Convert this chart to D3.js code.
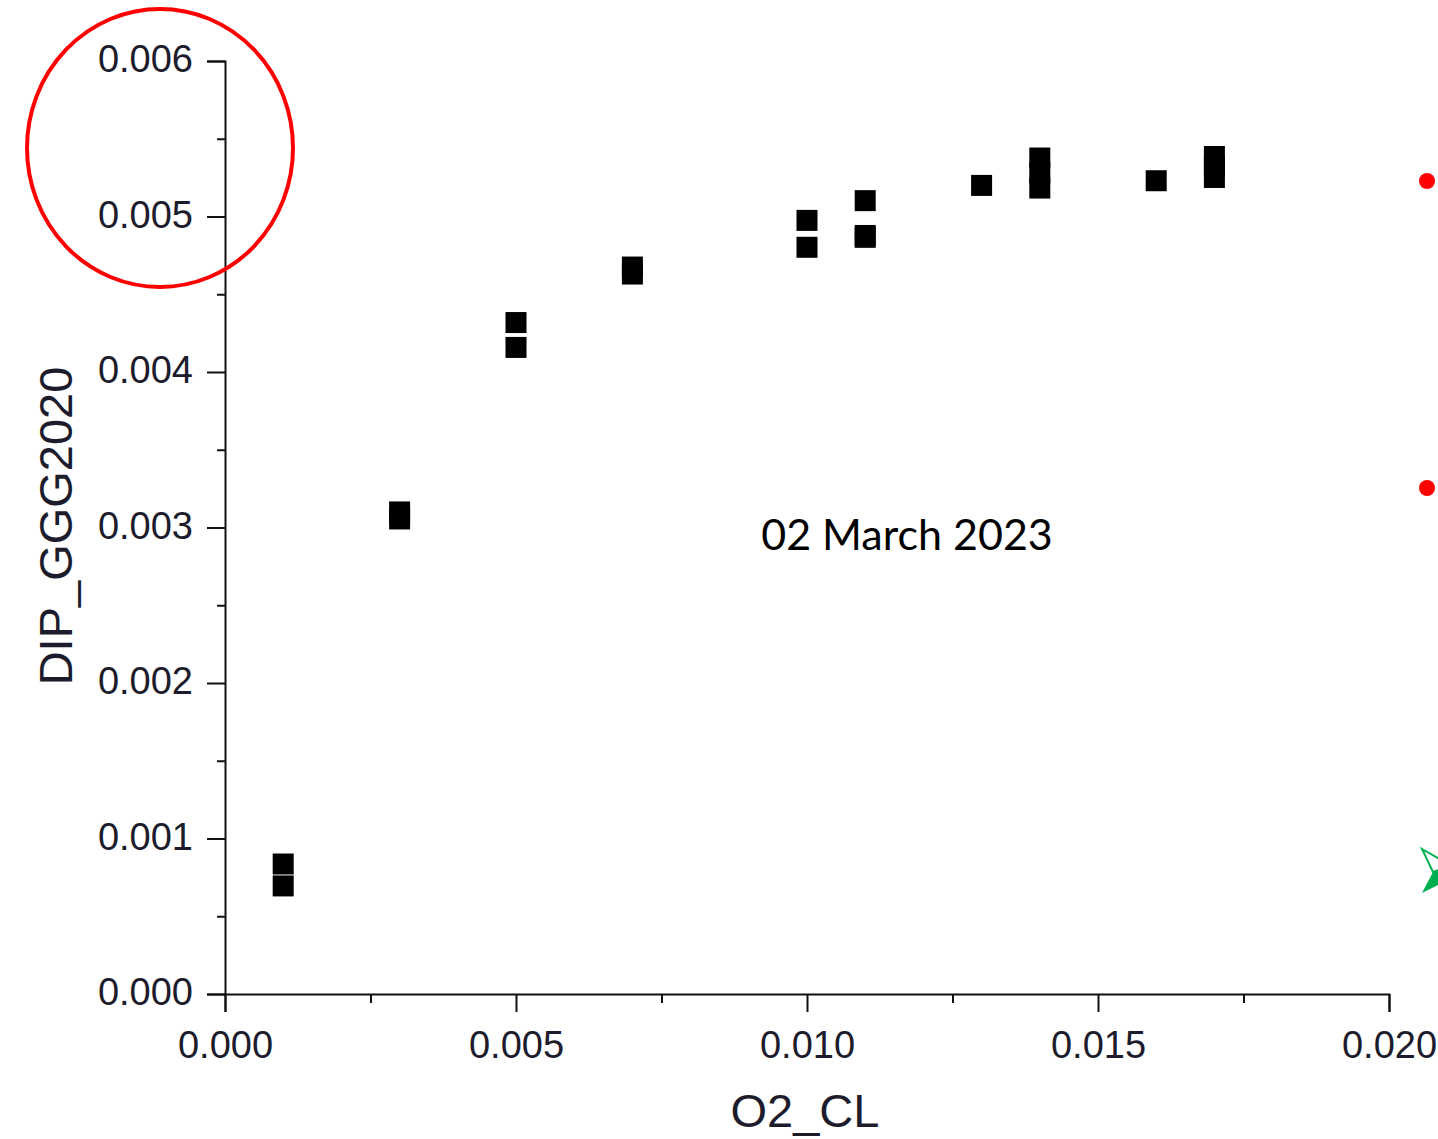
<!DOCTYPE html>
<html>
<head>
<meta charset="utf-8">
<script src="https://cdn.jsdelivr.net/npm/d3@7"></script>
<style>
  html, body { margin: 0; padding: 0; background: #fff; }
  svg { display: block; }
  .tick-label { font-family: "Liberation Sans", Arial, sans-serif; font-size: 38px; fill: #1c1c2c; }
  .axis-title { font-family: "Liberation Sans", Arial, sans-serif; font-size: 47px; fill: #1c1c2c; }
</style>
</head>
<body>
<div id="chart"></div>
<script>
// values
const o2Cl = [0.001, 0.001, 0.003, 0.003, 0.005, 0.005, 0.007, 0.007,
  0.010, 0.010, 0.011, 0.011, 0.011, 0.013, 0.014, 0.014, 0.014,
  0.016, 0.017, 0.017, 0.017];
const dip = [0.000836, 0.000695, 0.003100, 0.003055, 0.004318, 0.004158, 0.004675, 0.004630,
  0.004975, 0.004802, 0.005102, 0.004878, 0.004866, 0.005200, 0.005376, 0.005280, 0.005183,
  0.005230, 0.005386, 0.005320, 0.005251];

const xMajor = [0, 0.005, 0.010, 0.015, 0.020];
const xMinor = [0.0025, 0.0075, 0.0125, 0.0175];
const yMajor = [0, 0.001, 0.002, 0.003, 0.004, 0.005, 0.006];
const yMinor = [0.0005, 0.0015, 0.0025, 0.0035, 0.0045, 0.0055];

const width = 1438, height = 1139;

const svg = d3.select('#chart').append('svg')
  .attr('width', width)
  .attr('height', height);

const x = d3.scaleLinear().domain([0, 0.020]).range([225, 1389]);
const y = d3.scaleLinear().domain([0, 0.006]).range([994, 61]);

// axes
const xAxis = d3.axisBottom(x).tickValues(xMajor).tickSize(18).tickFormat(d3.format('.3f'));
const xAxisMinor = d3.axisBottom(x).tickValues(xMinor).tickSize(9).tickFormat('');
const yAxis = d3.axisLeft(y).tickValues(yMajor).tickSize(18).tickFormat(d3.format('.3f'));
const yAxisMinor = d3.axisLeft(y).tickValues(yMinor).tickSize(8).tickFormat('');

function styleAxis(g) {
  g.select('.domain').attr('stroke', '#111').attr('stroke-width', 2);
  g.selectAll('.tick line').attr('stroke', '#111').attr('stroke-width', 2);
  g.selectAll('.tick text').attr('class', 'tick-label').attr('fill', null);
  g.attr('font-family', null).attr('font-size', null);
}

svg.append('g').attr('transform', `translate(0,${y(0)})`).call(xAxis).call(styleAxis)
  .call(g => g.selectAll('.tick text').attr('dy', '1.2em').attr('y', 18));
svg.append('g').attr('transform', `translate(0,${y(0)})`).call(xAxisMinor).call(styleAxis)
  .call(g => g.select('.domain').remove());
svg.append('g').attr('transform', `translate(${x(0)},0)`).call(yAxis).call(styleAxis)
  .call(g => g.selectAll('.tick text').attr('x', -32).attr('dy', '0.28em'));
svg.append('g').attr('transform', `translate(${x(0)},0)`).call(yAxisMinor).call(styleAxis)
  .call(g => g.select('.domain').remove());

// axis titles
svg.append('text')
  .attr('class', 'axis-title')
  .attr('x', 805).attr('y', 1127)
  .attr('text-anchor', 'middle')
  .text('O2_CL');

svg.append('text')
  .attr('class', 'axis-title')
  .attr('transform', 'translate(72,526) rotate(-90)')
  .attr('text-anchor', 'middle')
  .text('DIP_GGG2020');

// points
const size = 21;
svg.append('g')
  .selectAll('rect')
  .data(o2Cl.map((v, i) => [v, dip[i]]))
  .join('rect')
  .attr('x', d => x(d[0]) - size / 2)
  .attr('y', d => y(d[1]) - size / 2)
  .attr('width', size)
  .attr('height', size)
  .attr('fill', '#000');

// annotation text
svg.append('text')
  .attr('x', 907).attr('y', 550)
  .attr('text-anchor', 'middle')
  .attr('font-family', 'Lato, "Open Sans", sans-serif')
  .attr('font-size', 43)
  .attr('fill', '#000')
  .text('02 March 2023');

// red circle highlight
svg.append('ellipse')
  .attr('cx', 160).attr('cy', 148)
  .attr('rx', 133).attr('ry', 139)
  .attr('fill', 'none')
  .attr('stroke', '#f00')
  .attr('stroke-width', 4);

// slide bullets at the right edge
svg.selectAll('circle.bullet')
  .data([181, 488])
  .join('circle')
  .attr('class', 'bullet')
  .attr('cx', 1427).attr('cy', d => d)
  .attr('r', 8)
  .attr('fill', '#f00');

// green arrow bullet, cut by the edge
svg.append('path')
  .attr('d', 'M1422,849 L1452,866 L1452,878 L1422,893 L1433,872 Z')
  .attr('fill', '#00b050');
svg.append('path')
  .attr('d', 'M1422,849 L1452,866 L1433,872 Z')
  .attr('fill', '#fff')
  .attr('stroke', '#00b050')
  .attr('stroke-width', 2);
</script>
</body>
</html>
